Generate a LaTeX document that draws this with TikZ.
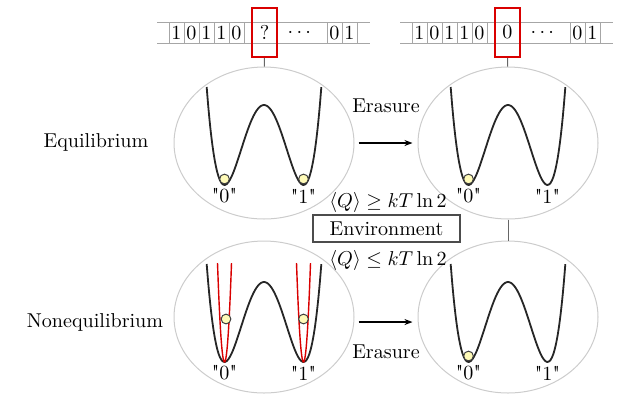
\documentclass[tikz,border=0pt]{standalone}
\usepackage{amsmath,amssymb}
\usepackage{fontspec}
\usetikzlibrary{arrows.meta,shapes.geometric}
\newcommand\bitlab[1]{\textquotedbl#1\textquotedbl}
\tikzset{panel/.style={ellipse,draw=gray!40,line width=0.5pt,minimum width=3.15cm,minimum height=2.66cm,inner sep=0pt},
 well/.style={line width=0.9pt,black!85},
 trap/.style={line width=0.7pt,red!85!black},
 ball/.style={circle,draw=black!75,fill=yellow!28,line width=0.5pt,minimum size=0.17cm,inner sep=0pt},
 cell/.style={draw=gray!70,line width=0.5pt,minimum width=0.2625cm,minimum height=0.376cm,inner sep=0pt},
 tape/.style={gray!70,line width=0.5pt},
 readhead/.style={draw=red!85!black,line width=1pt,minimum width=0.4375cm,minimum height=0.8575cm,inner sep=0pt},
 link/.style={gray!80!black,line width=0.5pt},
 erase/.style={-{Stealth[length=4pt]},line width=0.7pt,shorten <=2pt,shorten >=2.5pt},
 envbox/.style={draw=black!70,line width=0.6pt,minimum width=2.57cm,minimum height=0.47cm,inner sep=0pt}}

\begin{document}
\begin{tikzpicture}[x=0.0175cm,y=-0.0175cm]
\useasboundingbox (0,0) rectangle (621,394);
% potential panels
\foreach \nm/\cx/\cy/\my in {eqL/264/143/185,eqR/508/143/185,neqL/264/317/362,neqR/508/317/362} {
 \node[panel] (\nm) at (\cx,\cy) {};
 \draw[well] plot[domain=-1.4515:1.4515,samples=70,smooth] ({\cx+39.5*\x},{\my-80*(\x*\x-1)^2});
 \node (\nm-0) at (\cx-39.5,\my+11) {\bitlab{0}};
 \node (\nm-1) at (\cx+39.5,\my+11) {\bitlab{1}};
}
% narrow traps
\foreach \wx in {224.5,303.5}
 \draw[trap] plot[domain=-1:1,samples=30,smooth] ({\wx+7*\x},{362-99*(\x*\x)});
% particles
\node[ball] (p1) at (224.5,179) {};
\node[ball] (p2) at (303.5,179) {};
\node[ball] (p3) at (468.5,179) {};
\node[ball] (p4) at (226,319) {};
\node[ball] (p5) at (303.5,319) {};
\node[ball] (p6) at (468.5,356) {};
% tapes
\foreach \ox/\bit/\tp/\pot in {0/?/1/eqL,243/0/2/eqR} {
 \draw[tape] (157+\ox,22) -- (370+\ox,22) (157+\ox,43.5) -- (370+\ox,43.5);
 \foreach \d [count=\i from 0] in {1,0,1,1,0}
  \node[cell] (c\tp-\i) at (176.5+\ox+15*\i,32.75) {\d};
 \draw[tape] (276+\ox,22) -- (276+\ox,43.5);
 \node (dots\tp) at (301+\ox,32.75) {$\cdots$};
 \node[cell] (c\tp-a) at (334.5+\ox,32.75) {0};
 \node[cell] (c\tp-b) at (349.5+\ox,32.75) {1};
 \node[readhead] (head\tp) at (264.5+\ox,32.5) {\bit};
 \draw[link] (head\tp) -- (\pot);
}
\draw[link] (eqR) -- (neqR);
\draw[erase] (eqL) -- (eqR);
\draw[erase] ([yshift=-2.5pt]neqL.east) -- ([yshift=-2.5pt]neqR.west);
\node (er1) at (386,106) {Erasure};
\node (er2) at (386,352) {Erasure};
\node[envbox] (env) at (386.5,228.5) {Environment};
\node (qge) at (388,202) {$\langle Q\rangle\geq kT\ln 2$};
\node (qle) at (388,260) {$\langle Q\rangle\leq kT\ln 2$};
\node (eqlab) at (96,142) {Equilibrium};
\node (neqlab) at (95,322) {Nonequilibrium};
\end{tikzpicture}
\end{document}
